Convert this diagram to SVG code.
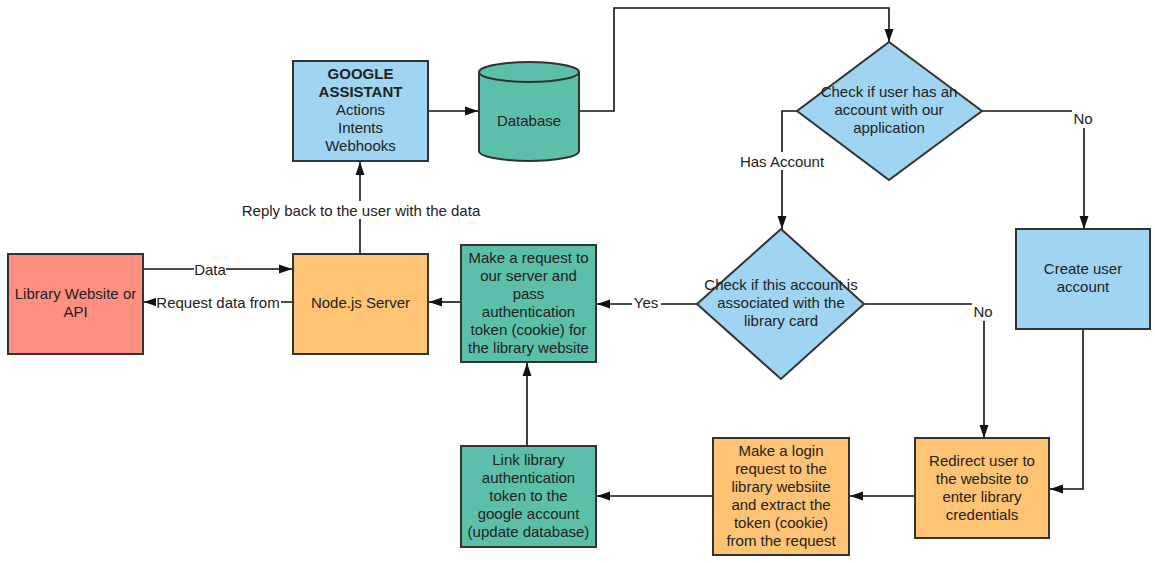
<svg xmlns="http://www.w3.org/2000/svg" width="1155" height="563" viewBox="0 0 1155 563">
<style>
  .box { stroke: #333; stroke-width: 2; }
  .red { fill: #FF8F80; }
  .orange { fill: #FFC374; }
  .blue { fill: #9FD5F2; }
  .teal { fill: #5CBFAA; }
  text { font-family: "Liberation Sans", Arial, sans-serif; font-size: 15px; fill: #222; text-anchor: middle; }
  .b { font-weight: bold; }
  .conn { fill: none; stroke: #111; stroke-width: 1.6; }
  .lblbg { fill: #fff; }
</style>
<defs>
  <marker id="arr" markerUnits="userSpaceOnUse" markerWidth="14" markerHeight="10" refX="13" refY="5" orient="auto">
    <path d="M0,0.5 L13,5 L0,9.5 z" fill="#111"/>
  </marker>
</defs>
<rect width="1155" height="563" fill="#fff"/>

<g id="connectors">
  <path class="conn" d="M428,111 H478" marker-end="url(#arr)"/>
  <path class="conn" d="M579,111 H614 V8 H889 V42" marker-end="url(#arr)"/>
  <path class="conn" d="M797,111 H782 V229" marker-end="url(#arr)"/>
  <path class="conn" d="M982,111 H1084 V229" marker-end="url(#arr)"/>
  <path class="conn" d="M697,304 H597" marker-end="url(#arr)"/>
  <path class="conn" d="M864,304 H984 V438" marker-end="url(#arr)"/>
  <path class="conn" d="M1083,329 V489 H1050" marker-end="url(#arr)"/>
  <path class="conn" d="M915,496 H850" marker-end="url(#arr)"/>
  <path class="conn" d="M713,496 H597" marker-end="url(#arr)"/>
  <path class="conn" d="M527,446 V363" marker-end="url(#arr)"/>
  <path class="conn" d="M461,302 H429" marker-end="url(#arr)"/>
  <path class="conn" d="M360,254 V162" marker-end="url(#arr)"/>
  <path class="conn" d="M143,269 H292" marker-end="url(#arr)"/>
  <path class="conn" d="M293,302 H144" marker-end="url(#arr)"/>

  <rect class="lblbg" x="194" y="261" width="32" height="16"/>
  <text x="210" y="274.5">Data</text>
  <rect class="lblbg" x="156" y="294" width="125" height="16"/>
  <text x="218" y="307.5">Request data from</text>
  <rect class="lblbg" x="239" y="201" width="244" height="18"/>
  <text x="361" y="215.5">Reply back to the user with the data</text>
  <rect class="lblbg" x="737" y="152" width="90" height="18"/>
  <text x="782" y="166.5">Has Account</text>
  <rect class="lblbg" x="1072" y="109" width="23" height="19"/>
  <text x="1083" y="123.5">No</text>
  <rect class="lblbg" x="972" y="302" width="23" height="19"/>
  <text x="983" y="316.5">No</text>
  <rect class="lblbg" x="632" y="294" width="29" height="16"/>
  <text x="646" y="307.5">Yes</text>
</g>

<g id="library">
  <rect class="box red" x="8" y="254" width="135" height="100"/>
  <text x="75.5" y="298.5">Library Website or</text>
  <text x="75.5" y="316.5">API</text>
</g>

<g id="nodejs">
  <rect class="box orange" x="293" y="254" width="135" height="100"/>
  <text x="360.5" y="307.5">Node.js Server</text>
</g>

<g id="google">
  <rect class="box blue" x="293" y="61" width="135" height="100"/>
  <text class="b" x="360.5" y="78.5">GOOGLE</text>
  <text class="b" x="360.5" y="96.5">ASSISTANT</text>
  <text x="360.5" y="114.5">Actions</text>
  <text x="360.5" y="132.5">Intents</text>
  <text x="360.5" y="150.5">Webhooks</text>
</g>

<g id="database">
  <path class="box teal" d="M479,72 A50,10 0 0 1 579,72 V151 A50,10 0 0 1 479,151 Z"/>
  <path fill="none" stroke="#333" stroke-width="2" d="M479,72 A50,10 0 0 0 579,72"/>
  <text x="529" y="125.5">Database</text>
</g>

<g id="make-request">
  <rect class="box teal" x="461" y="245" width="135" height="117"/>
  <text x="528.5" y="262.5">Make a request to</text>
  <text x="528.5" y="280.5">our server and</text>
  <text x="528.5" y="298.5">pass</text>
  <text x="528.5" y="316.5">authentication</text>
  <text x="528.5" y="334.5">token (cookie) for</text>
  <text x="528.5" y="352.5">the library website</text>
</g>

<g id="check-account">
  <polygon class="box blue" points="889,42 982,111 889,180 797,111"/>
  <text x="889" y="96.5">Check if user has an</text>
  <text x="889" y="114.5">account with our</text>
  <text x="889" y="132.5">application</text>
</g>

<g id="check-library">
  <polygon class="box blue" points="781,229 864,304 781,379 697,304"/>
  <text x="781" y="289.5">Check if this account is</text>
  <text x="781" y="307.5">associated with the</text>
  <text x="781" y="325.5">library card</text>
</g>

<g id="create-user">
  <rect class="box blue" x="1016" y="229" width="134" height="100"/>
  <text x="1083" y="273.5">Create user</text>
  <text x="1083" y="291.5">account</text>
</g>

<g id="redirect">
  <rect class="box orange" x="915" y="438" width="134" height="100"/>
  <text x="982" y="465.5">Redirect user to</text>
  <text x="982" y="483.5">the website to</text>
  <text x="982" y="501.5">enter library</text>
  <text x="982" y="519.5">credentials</text>
</g>

<g id="login">
  <rect class="box orange" x="713" y="438" width="136" height="117"/>
  <text x="781" y="455.5">Make a login</text>
  <text x="781" y="473.5">request to the</text>
  <text x="781" y="491.5">library websiite</text>
  <text x="781" y="509.5">and extract the</text>
  <text x="781" y="527.5">token (cookie)</text>
  <text x="781" y="545.5">from the request</text>
</g>

<g id="link">
  <rect class="box teal" x="461" y="446" width="135" height="101"/>
  <text x="528.5" y="464.5">Link library</text>
  <text x="528.5" y="482.5">authentication</text>
  <text x="528.5" y="500.5">token to the</text>
  <text x="528.5" y="518.5">google account</text>
  <text x="528.5" y="536.5">(update database)</text>
</g>
</svg>
